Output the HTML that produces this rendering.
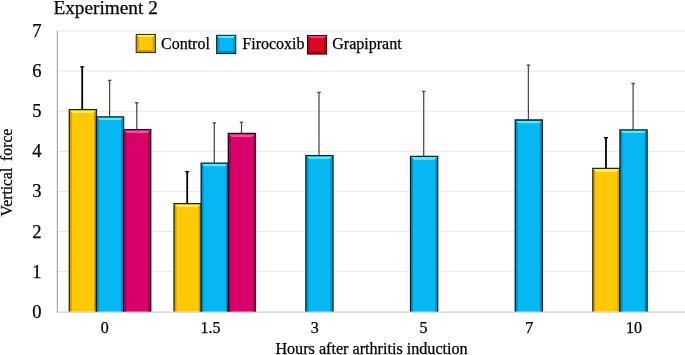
<!DOCTYPE html>
<html><head><meta charset="utf-8"><title>Experiment 2</title>
<style>
html,body{margin:0;padding:0;background:#fff;}
body{width:685px;height:355px;overflow:hidden;}
svg{display:block;}
text{font-family:"Liberation Serif",serif;fill:#000;stroke:#000;stroke-width:0.25px;}
</style></head><body>
<svg width="685" height="355" viewBox="0 0 685 355">
<rect width="685" height="355" fill="#fff"/>
<defs><linearGradient id="tY" x1="0" x2="0" y1="0" y2="1"><stop offset="0" stop-color="#FFEE58"/><stop offset="0.8" stop-color="#FFEE58"/><stop offset="1" stop-color="#FFCA05"/></linearGradient><linearGradient id="tB" x1="0" x2="0" y1="0" y2="1"><stop offset="0" stop-color="#55E8FF"/><stop offset="0.8" stop-color="#55E8FF"/><stop offset="1" stop-color="#06B7F1"/></linearGradient><linearGradient id="tM" x1="0" x2="0" y1="0" y2="1"><stop offset="0" stop-color="#FF4DA2"/><stop offset="0.8" stop-color="#FF4DA2"/><stop offset="1" stop-color="#D9006C"/></linearGradient><linearGradient id="tR" x1="0" x2="0" y1="0" y2="1"><stop offset="0" stop-color="#FF3A78"/><stop offset="0.8" stop-color="#FF3A78"/><stop offset="1" stop-color="#DB0A1E"/></linearGradient></defs>
<line x1="57.4" x2="686" y1="271.6" y2="271.6" stroke="#e9e9e9" stroke-width="1"/>
<line x1="57.4" x2="686" y1="231.5" y2="231.5" stroke="#e9e9e9" stroke-width="1"/>
<line x1="57.4" x2="686" y1="191.4" y2="191.4" stroke="#e9e9e9" stroke-width="1"/>
<line x1="57.4" x2="686" y1="151.3" y2="151.3" stroke="#e9e9e9" stroke-width="1"/>
<line x1="57.4" x2="686" y1="111.2" y2="111.2" stroke="#e9e9e9" stroke-width="1"/>
<line x1="57.4" x2="686" y1="71.1" y2="71.1" stroke="#e9e9e9" stroke-width="1"/>
<line x1="57.4" x2="686" y1="31.0" y2="31.0" stroke="#e9e9e9" stroke-width="1"/>
<line x1="57.4" x2="686" y1="312.09999999999997" y2="312.09999999999997" stroke="#cfcfcf" stroke-width="1.2"/>
<line x1="57.4" x2="57.4" y1="31.0" y2="312.59999999999997" stroke="#a6a6a6" stroke-width="1.2"/>
<line x1="82.2" x2="82.2" y1="66.4" y2="110.2" stroke="#000" stroke-width="1.8"/><line x1="80.2" x2="84.2" y1="66.9" y2="66.9" stroke="#000" stroke-width="1.3"/>
<line x1="109.6" x2="109.6" y1="79.9" y2="117.4" stroke="#484848" stroke-width="1.25"/><line x1="107.9" x2="111.4" y1="80.4" y2="80.4" stroke="#484848" stroke-width="1.3"/>
<line x1="136.8" x2="136.8" y1="102.3" y2="130.3" stroke="#484848" stroke-width="1.25"/><line x1="135.0" x2="138.5" y1="102.8" y2="102.8" stroke="#484848" stroke-width="1.3"/>
<line x1="187.2" x2="187.2" y1="171.2" y2="204.2" stroke="#000" stroke-width="1.8"/><line x1="185.2" x2="189.2" y1="171.7" y2="171.7" stroke="#000" stroke-width="1.3"/>
<line x1="214.3" x2="214.3" y1="122.4" y2="163.7" stroke="#484848" stroke-width="1.25"/><line x1="212.6" x2="216.1" y1="122.9" y2="122.9" stroke="#484848" stroke-width="1.3"/>
<line x1="241.5" x2="241.5" y1="121.8" y2="134.1" stroke="#484848" stroke-width="1.25"/><line x1="239.7" x2="243.2" y1="122.3" y2="122.3" stroke="#484848" stroke-width="1.3"/>
<line x1="319.0" x2="319.0" y1="91.9" y2="156.2" stroke="#484848" stroke-width="1.25"/><line x1="317.3" x2="320.8" y1="92.4" y2="92.4" stroke="#484848" stroke-width="1.3"/>
<line x1="423.7" x2="423.7" y1="90.9" y2="157.0" stroke="#484848" stroke-width="1.25"/><line x1="422.0" x2="425.5" y1="91.4" y2="91.4" stroke="#484848" stroke-width="1.3"/>
<line x1="528.4" x2="528.4" y1="64.7" y2="120.6" stroke="#484848" stroke-width="1.25"/><line x1="526.7" x2="530.2" y1="65.2" y2="65.2" stroke="#484848" stroke-width="1.3"/>
<line x1="606.0" x2="606.0" y1="137.2" y2="168.9" stroke="#000" stroke-width="1.8"/><line x1="604.0" x2="608.0" y1="137.7" y2="137.7" stroke="#000" stroke-width="1.3"/>
<line x1="633.1" x2="633.1" y1="83.0" y2="130.5" stroke="#484848" stroke-width="1.25"/><line x1="631.4" x2="634.9" y1="83.5" y2="83.5" stroke="#484848" stroke-width="1.3"/>
<rect x="69.30" y="109.60" width="27.15" height="202.00" fill="#FFCA05"/><polygon points="69.95,110.25 71.75,112.05 71.75,311.60 69.95,311.60" fill="#C99700" opacity="0.85"/><polygon points="95.80,110.25 94.00,112.05 94.00,311.60 95.80,311.60" fill="#C99700" opacity="0.85"/><polygon points="69.95,110.25 95.80,110.25 92.80,113.25 72.95,113.25" fill="url(#tY)"/><path d="M69.30,311.60 V109.60 H96.45 V311.60" fill="none" stroke="#2e2400" stroke-width="1.3"/>
<rect x="96.45" y="116.80" width="27.15" height="194.80" fill="#06B7F1"/><polygon points="97.10,117.45 98.90,119.25 98.90,311.60 97.10,311.60" fill="#0088BE" opacity="0.85"/><polygon points="122.95,117.45 121.15,119.25 121.15,311.60 122.95,311.60" fill="#0088BE" opacity="0.85"/><polygon points="97.10,117.45 122.95,117.45 119.95,120.45 100.10,120.45" fill="url(#tB)"/><path d="M96.45,311.60 V116.80 H123.60 V311.60" fill="none" stroke="#04202e" stroke-width="1.3"/>
<rect x="123.60" y="129.70" width="27.15" height="181.90" fill="#D9006C"/><polygon points="124.25,130.35 126.05,132.15 126.05,311.60 124.25,311.60" fill="#A00050" opacity="0.85"/><polygon points="150.10,130.35 148.30,132.15 148.30,311.60 150.10,311.60" fill="#A00050" opacity="0.85"/><polygon points="124.25,130.35 150.10,130.35 147.10,133.35 127.25,133.35" fill="url(#tM)"/><path d="M123.60,311.60 V129.70 H150.75 V311.60" fill="none" stroke="#30001a" stroke-width="1.3"/>
<rect x="174.00" y="203.60" width="27.15" height="108.00" fill="#FFCA05"/><polygon points="174.65,204.25 176.45,206.05 176.45,311.60 174.65,311.60" fill="#C99700" opacity="0.85"/><polygon points="200.50,204.25 198.70,206.05 198.70,311.60 200.50,311.60" fill="#C99700" opacity="0.85"/><polygon points="174.65,204.25 200.50,204.25 197.50,207.25 177.65,207.25" fill="url(#tY)"/><path d="M174.00,311.60 V203.60 H201.15 V311.60" fill="none" stroke="#2e2400" stroke-width="1.3"/>
<rect x="201.15" y="163.10" width="27.15" height="148.50" fill="#06B7F1"/><polygon points="201.80,163.75 203.60,165.55 203.60,311.60 201.80,311.60" fill="#0088BE" opacity="0.85"/><polygon points="227.65,163.75 225.85,165.55 225.85,311.60 227.65,311.60" fill="#0088BE" opacity="0.85"/><polygon points="201.80,163.75 227.65,163.75 224.65,166.75 204.80,166.75" fill="url(#tB)"/><path d="M201.15,311.60 V163.10 H228.30 V311.60" fill="none" stroke="#04202e" stroke-width="1.3"/>
<rect x="228.30" y="133.50" width="27.15" height="178.10" fill="#D9006C"/><polygon points="228.95,134.15 230.75,135.95 230.75,311.60 228.95,311.60" fill="#A00050" opacity="0.85"/><polygon points="254.80,134.15 253.00,135.95 253.00,311.60 254.80,311.60" fill="#A00050" opacity="0.85"/><polygon points="228.95,134.15 254.80,134.15 251.80,137.15 231.95,137.15" fill="url(#tM)"/><path d="M228.30,311.60 V133.50 H255.45 V311.60" fill="none" stroke="#30001a" stroke-width="1.3"/>
<rect x="305.85" y="155.60" width="27.15" height="156.00" fill="#06B7F1"/><polygon points="306.50,156.25 308.30,158.05 308.30,311.60 306.50,311.60" fill="#0088BE" opacity="0.85"/><polygon points="332.35,156.25 330.55,158.05 330.55,311.60 332.35,311.60" fill="#0088BE" opacity="0.85"/><polygon points="306.50,156.25 332.35,156.25 329.35,159.25 309.50,159.25" fill="url(#tB)"/><path d="M305.85,311.60 V155.60 H333.00 V311.60" fill="none" stroke="#04202e" stroke-width="1.3"/>
<rect x="410.55" y="156.40" width="27.15" height="155.20" fill="#06B7F1"/><polygon points="411.20,157.05 413.00,158.85 413.00,311.60 411.20,311.60" fill="#0088BE" opacity="0.85"/><polygon points="437.05,157.05 435.25,158.85 435.25,311.60 437.05,311.60" fill="#0088BE" opacity="0.85"/><polygon points="411.20,157.05 437.05,157.05 434.05,160.05 414.20,160.05" fill="url(#tB)"/><path d="M410.55,311.60 V156.40 H437.70 V311.60" fill="none" stroke="#04202e" stroke-width="1.3"/>
<rect x="515.25" y="120.00" width="27.15" height="191.60" fill="#06B7F1"/><polygon points="515.90,120.65 517.70,122.45 517.70,311.60 515.90,311.60" fill="#0088BE" opacity="0.85"/><polygon points="541.75,120.65 539.95,122.45 539.95,311.60 541.75,311.60" fill="#0088BE" opacity="0.85"/><polygon points="515.90,120.65 541.75,120.65 538.75,123.65 518.90,123.65" fill="url(#tB)"/><path d="M515.25,311.60 V120.00 H542.40 V311.60" fill="none" stroke="#04202e" stroke-width="1.3"/>
<rect x="592.80" y="168.30" width="27.15" height="143.30" fill="#FFCA05"/><polygon points="593.45,168.95 595.25,170.75 595.25,311.60 593.45,311.60" fill="#C99700" opacity="0.85"/><polygon points="619.30,168.95 617.50,170.75 617.50,311.60 619.30,311.60" fill="#C99700" opacity="0.85"/><polygon points="593.45,168.95 619.30,168.95 616.30,171.95 596.45,171.95" fill="url(#tY)"/><path d="M592.80,311.60 V168.30 H619.95 V311.60" fill="none" stroke="#2e2400" stroke-width="1.3"/>
<rect x="619.95" y="129.90" width="27.15" height="181.70" fill="#06B7F1"/><polygon points="620.60,130.55 622.40,132.35 622.40,311.60 620.60,311.60" fill="#0088BE" opacity="0.85"/><polygon points="646.45,130.55 644.65,132.35 644.65,311.60 646.45,311.60" fill="#0088BE" opacity="0.85"/><polygon points="620.60,130.55 646.45,130.55 643.45,133.55 623.60,133.55" fill="url(#tB)"/><path d="M619.95,311.60 V129.90 H647.10 V311.60" fill="none" stroke="#04202e" stroke-width="1.3"/>
<rect x="136.20" y="34.40" width="19.20" height="18.20" fill="#FFCA05"/><polygon points="136.70,34.90 138.90,37.10 138.90,49.90 136.70,52.10" fill="#C99700" opacity="0.85"/><polygon points="154.90,34.90 152.70,37.10 152.70,49.90 154.90,52.10" fill="#C99700" opacity="0.85"/><polygon points="136.70,52.10 154.90,52.10 152.70,49.90 138.90,49.90" fill="#C08F00" opacity="0.85"/><polygon points="136.70,34.90 154.90,34.90 152.30,37.50 139.30,37.50" fill="url(#tY)"/><rect x="136.20" y="34.40" width="19.20" height="18.20" fill="none" stroke="#2e2400" stroke-width="1.0"/>
<rect x="216.60" y="35.30" width="19.20" height="18.30" fill="#06B7F1"/><polygon points="217.10,35.80 219.30,38.00 219.30,50.90 217.10,53.10" fill="#0088BE" opacity="0.85"/><polygon points="235.30,35.80 233.10,38.00 233.10,50.90 235.30,53.10" fill="#0088BE" opacity="0.85"/><polygon points="217.10,53.10 235.30,53.10 233.10,50.90 219.30,50.90" fill="#007DAE" opacity="0.85"/><polygon points="217.10,35.80 235.30,35.80 232.70,38.40 219.70,38.40" fill="url(#tB)"/><rect x="216.60" y="35.30" width="19.20" height="18.30" fill="none" stroke="#04202e" stroke-width="1.0"/>
<rect x="307.50" y="35.50" width="19.10" height="18.60" fill="#DB0A1E"/><polygon points="308.00,36.00 310.20,38.20 310.20,51.40 308.00,53.60" fill="#B30014" opacity="0.85"/><polygon points="326.10,36.00 323.90,38.20 323.90,51.40 326.10,53.60" fill="#B30014" opacity="0.85"/><polygon points="308.00,53.60 326.10,53.60 323.90,51.40 310.20,51.40" fill="#A00010" opacity="0.85"/><polygon points="308.00,36.00 326.10,36.00 323.50,38.60 310.60,38.60" fill="url(#tR)"/><rect x="307.50" y="35.50" width="19.10" height="18.60" fill="none" stroke="#300006" stroke-width="1.0"/>
<text x="161" y="48.8" font-size="16">Control</text>
<text x="242.3" y="48.8" font-size="16">Firocoxib</text>
<text x="332.3" y="48.8" font-size="16">Grapiprant</text>
<text x="53.4" y="13.8" font-size="19.3">Experiment 2</text>
<text x="41.5" y="317.7" font-size="18.5" text-anchor="end">0</text>
<text x="41.5" y="277.6" font-size="18.5" text-anchor="end">1</text>
<text x="41.5" y="237.5" font-size="18.5" text-anchor="end">2</text>
<text x="41.5" y="197.4" font-size="18.5" text-anchor="end">3</text>
<text x="41.5" y="157.3" font-size="18.5" text-anchor="end">4</text>
<text x="41.5" y="117.2" font-size="18.5" text-anchor="end">5</text>
<text x="41.5" y="77.1" font-size="18.5" text-anchor="end">6</text>
<text x="41.5" y="37.0" font-size="18.5" text-anchor="end">7</text>
<text x="104.8" y="332.6" font-size="16" text-anchor="middle">0</text>
<text x="210.4" y="332.6" font-size="16" text-anchor="middle">1.5</text>
<text x="314.7" y="332.6" font-size="16" text-anchor="middle">3</text>
<text x="423.4" y="332.6" font-size="16" text-anchor="middle">5</text>
<text x="529.3" y="332.6" font-size="16" text-anchor="middle">7</text>
<text x="634" y="332.6" font-size="16" text-anchor="middle">10</text>
<text x="275.4" y="354.3" font-size="16.15">Hours after arthritis induction</text>
<text transform="translate(12.4,216.4) rotate(-90)" font-size="15.7" word-spacing="2.8">Vertical force</text>
</svg>
</body></html>
